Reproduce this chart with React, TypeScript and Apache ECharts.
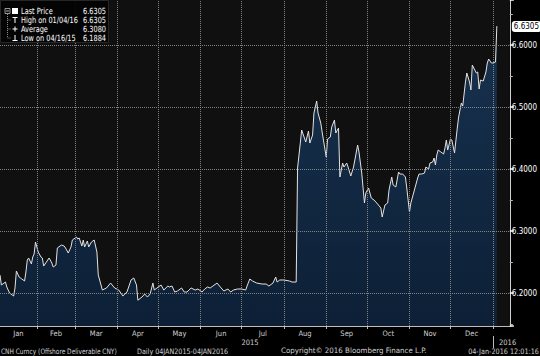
import React, { useEffect, useRef } from 'react';
import * as echarts from 'echarts';

const dates: string[] = [
  '2015-01-05','2015-01-06','2015-01-09','2015-01-10','2015-01-12','2015-01-15','2015-01-16','2015-01-17','2015-01-19','2015-01-21','2015-01-23','2015-01-24','2015-01-25','2015-01-26','2015-01-28','2015-01-29','2015-01-30','2015-01-31',
  '2015-02-02','2015-02-04','2015-02-05','2015-02-06','2015-02-08','2015-02-10','2015-02-12','2015-02-13','2015-02-15','2015-02-16','2015-02-19','2015-02-21','2015-02-22','2015-02-24','2015-02-26','2015-02-27',
  '2015-03-02','2015-03-03','2015-03-04','2015-03-06','2015-03-07','2015-03-08','2015-03-10','2015-03-11','2015-03-13','2015-03-15','2015-03-17','2015-03-18','2015-03-19','2015-03-21','2015-03-24','2015-03-27','2015-03-30',
  '2015-04-02','2015-04-05','2015-04-08','2015-04-11','2015-04-13','2015-04-15','2015-04-16','2015-04-19','2015-04-21','2015-04-23','2015-04-25','2015-04-27','2015-04-28','2015-04-30',
  '2015-05-03','2015-05-05','2015-05-08','2015-05-09','2015-05-11','2015-05-13','2015-05-15','2015-05-18','2015-05-20','2015-05-22','2015-05-25','2015-05-28','2015-05-30',
  '2015-06-02','2015-06-04','2015-06-06','2015-06-08','2015-06-10','2015-06-13','2015-06-16','2015-06-18','2015-06-21','2015-06-23','2015-06-25','2015-06-28',
  '2015-07-01','2015-07-04','2015-07-05','2015-07-07','2015-07-09','2015-07-12','2015-07-16','2015-07-19','2015-07-21','2015-07-24','2015-07-26','2015-07-27','2015-07-29',
  '2015-08-01','2015-08-05','2015-08-07','2015-08-10','2015-08-11','2015-08-13','2015-08-14','2015-08-16','2015-08-17','2015-08-19','2015-08-20','2015-08-22','2015-08-23','2015-08-25','2015-08-26','2015-08-28','2015-08-29',
  '2015-09-01','2015-09-02','2015-09-04','2015-09-05','2015-09-07','2015-09-08','2015-09-10','2015-09-11','2015-09-13','2015-09-14','2015-09-16','2015-09-17','2015-09-19','2015-09-21','2015-09-24','2015-09-25','2015-09-27','2015-09-29','2015-09-30',
  '2015-10-02','2015-10-04','2015-10-06','2015-10-08','2015-10-11','2015-10-12','2015-10-14','2015-10-16','2015-10-17','2015-10-19','2015-10-20','2015-10-22','2015-10-24','2015-10-25','2015-10-27','2015-10-29','2015-10-30',
  '2015-11-01','2015-11-02','2015-11-04','2015-11-07','2015-11-08','2015-11-10','2015-11-12','2015-11-13','2015-11-15','2015-11-16','2015-11-18','2015-11-19','2015-11-20','2015-11-21','2015-11-22','2015-11-24','2015-11-26','2015-11-27','2015-11-28','2015-11-29',
  '2015-12-01','2015-12-02','2015-12-04','2015-12-06','2015-12-07','2015-12-09','2015-12-10','2015-12-12','2015-12-13','2015-12-15','2015-12-16','2015-12-17','2015-12-20','2015-12-21','2015-12-22','2015-12-23','2015-12-25','2015-12-27','2015-12-28','2015-12-29','2015-12-31',
  '2016-01-01','2016-01-03','2016-01-04',
];

const prices: number[] = [
  6.2290, 6.2129, 6.2177, 6.2097, 6.2000, 6.1952, 6.2081, 6.2355, 6.2258, 6.2226, 6.2194, 6.2339, 6.2532, 6.2565, 6.2468, 6.2581, 6.2629, 6.2823,
  6.2661, 6.2581, 6.2565, 6.2435, 6.2500, 6.2565, 6.2484, 6.2419, 6.2452, 6.2726, 6.2774, 6.2758, 6.2726, 6.2645, 6.2742, 6.2855,
  6.2903, 6.2871, 6.2887, 6.2758, 6.2855, 6.2742, 6.2839, 6.2742, 6.2823, 6.2855, 6.2661, 6.2290, 6.2210, 6.2048, 6.2081, 6.2161, 6.2081,
  6.2048, 6.1952, 6.2016, 6.2210, 6.2242, 6.2129, 6.1884, 6.1935, 6.1984, 6.1935, 6.1984, 6.2161, 6.2048, 6.2081,
  6.2129, 6.2048, 6.2113, 6.2097, 6.2113, 6.2016, 6.2032, 6.2081, 6.2016, 6.2016, 6.2081, 6.2048, 6.2065,
  6.2016, 6.2065, 6.2097, 6.2081, 6.2113, 6.2161, 6.2081, 6.2032, 6.2065, 6.2016, 6.2048, 6.2065,
  6.2065, 6.2048, 6.2113, 6.2226, 6.2194, 6.2161, 6.2145, 6.2145, 6.2113, 6.2161, 6.2258, 6.2177, 6.2210,
  6.2210, 6.2194, 6.2177, 6.2177, 6.4016, 6.4419, 6.4629, 6.4500, 6.4435, 6.4613, 6.4419, 6.4548, 6.4903, 6.5097, 6.4903, 6.4742, 6.4597,
  6.4194, 6.4484, 6.4516, 6.4677, 6.4790, 6.4581, 6.4661, 6.3871, 6.4097, 6.4032, 6.4097, 6.4032, 6.3887, 6.4032, 6.4387, 6.4274, 6.3935, 6.3452, 6.3613,
  6.3694, 6.3532, 6.3500, 6.3452, 6.3371, 6.3226, 6.3419, 6.3452, 6.3661, 6.3871, 6.3742, 6.3710, 6.3952, 6.3919, 6.3919, 6.3871, 6.3694,
  6.3306, 6.3452, 6.3613, 6.3855, 6.3919, 6.3919, 6.3935, 6.4032, 6.4000, 6.4097, 6.4113, 6.4177, 6.4065, 6.4226, 6.4306, 6.4274, 6.4242, 6.4339, 6.4468, 6.4306,
  6.4484, 6.4468, 6.4258, 6.4661, 6.4839, 6.5065, 6.5016, 6.5403, 6.5548, 6.5403, 6.5274, 6.5677, 6.5548, 6.5565, 6.5290, 6.5435, 6.5419, 6.5565, 6.5710, 6.5774, 6.5710,
  6.5710, 6.5726, 6.6305,
];

const monthNames: string[] = ['Jan', 'Feb', 'Mar', 'Apr', 'May', 'Jun', 'Jul', 'Aug', 'Sep', 'Oct', 'Nov', 'Dec'];
const yearLabels: string[] = ['2015', '2016'];
const yGridValues: number[] = [6.2, 6.3, 6.4, 6.5, 6.6];

const legendNames: string[] = ['Last Price', 'High on 01/04/16', 'Average', 'Low on 04/16/15'];
const legendValues: number[] = [6.6305, 6.6305, 6.3080, 6.1884];
const lastPrice = 6.6305;

const footerSource = 'CNH Curncy (Offshore Deliverable CNY)';
const footerRange = 'Daily 04JAN2015-04JAN2016';
const footerMid = 'Copyright\u00A9 2016 Bloomberg Finance L.P.';
const footerRight = '04-Jan-2016 12:01:16';

const FONT = "'DejaVu Sans Condensed', 'Liberation Sans Narrow', 'Liberation Sans', sans-serif";
const GRID_COLOR = '#8e8e8e';

function toTime(s: string): number {
  const [y, m, d] = s.split('-').map(Number);
  return new Date(y, m - 1, d).getTime();
}

export default function App() {
  const ref = useRef<HTMLDivElement>(null);

  useEffect(() => {
    if (!ref.current) return;
    const chart = echarts.init(ref.current, null, { renderer: 'svg' });

    const axisMin = new Date(2015, 0, 5).getTime();
    const axisMax = new Date(2016, 0, 13, 12).getTime();
    const monthStarts: number[] = [];
    for (let m = 1; m <= 12; m++) monthStarts.push(new Date(2015, m, 1).getTime());
    const monthMids: number[] = [];
    for (let m = 0; m < 12; m++) {
      const s = m === 0 ? axisMin : new Date(2015, m, 1).getTime();
      const e = new Date(2015, m + 1, 1).getTime();
      monthMids.push((s + e) / 2);
    }

    const seriesData = dates.map((d, i) => [toTime(d), prices[i]]);

    const dotted = { color: GRID_COLOR, type: 'dotted', width: 1, opacity: 0.9 };
    const gridMarks: any[] = [
      ...monthStarts.map((t) => ({ xAxis: t, lineStyle: dotted, label: { show: false } })),
      ...yGridValues.map((v) => ({ yAxis: v, lineStyle: dotted, label: { show: false } })),
      {
        yAxis: lastPrice,
        lineStyle: { color: 'rgba(0,0,0,0)', width: 0 },
        label: {
          show: true,
          position: 'end',
          distance: 2,
          formatter: () => lastPrice.toFixed(4),
          color: '#000000',
          backgroundColor: '#ffffff',
          borderRadius: 3,
          padding: [2, 2, 1, 2],
          fontSize: 8,
          fontFamily: FONT,
        },
      },
    ];

    const graphic: any[] = [];
    graphic.push({ type: 'rect', shape: { x: 0.5, y: 0.5, width: 108, height: 42 }, style: { fill: 'rgba(4,4,4,0.95)', stroke: '#262626', lineWidth: 1 }, z: 10 });
    graphic.push({ type: 'line', shape: { x1: 7.5, y1: 14, x2: 7.5, y2: 38 }, style: { stroke: '#8a8a8a', lineWidth: 1, lineDash: [1, 1] }, z: 11 });
    [20, 29, 38].forEach((yy) => {
      graphic.push({ type: 'line', shape: { x1: 7.5, y1: yy, x2: 11, y2: yy }, style: { stroke: '#8a8a8a', lineWidth: 1, lineDash: [1, 1] }, z: 11 });
    });
    graphic.push({ type: 'rect', shape: { x: 5, y: 8.5, width: 5, height: 5 }, style: { fill: 'none', stroke: '#bbb', lineWidth: 0.8 }, z: 11 });
    graphic.push({ type: 'line', shape: { x1: 6, y1: 11, x2: 9, y2: 11 }, style: { stroke: '#ddd', lineWidth: 0.8 }, z: 11 });
    graphic.push({ type: 'rect', shape: { x: 12, y: 8, width: 6, height: 6 }, style: { fill: '#ffffff' }, z: 11 });
    graphic.push({ type: 'line', shape: { x1: 12.5, y1: 17.5, x2: 17.5, y2: 17.5 }, style: { stroke: '#fff', lineWidth: 1 }, z: 11 });
    graphic.push({ type: 'line', shape: { x1: 15, y1: 17.5, x2: 15, y2: 23 }, style: { stroke: '#fff', lineWidth: 1 }, z: 11 });
    graphic.push({ type: 'line', shape: { x1: 12.5, y1: 29, x2: 17.5, y2: 29 }, style: { stroke: '#fff', lineWidth: 1 }, z: 11 });
    graphic.push({ type: 'line', shape: { x1: 15, y1: 26.5, x2: 15, y2: 31.5 }, style: { stroke: '#fff', lineWidth: 1 }, z: 11 });
    graphic.push({ type: 'line', shape: { x1: 15, y1: 35, x2: 15, y2: 40.5 }, style: { stroke: '#fff', lineWidth: 1 }, z: 11 });
    graphic.push({ type: 'line', shape: { x1: 12.5, y1: 40.5, x2: 17.5, y2: 40.5 }, style: { stroke: '#fff', lineWidth: 1 }, z: 11 });

    const rowsY = [11, 20, 29, 38];
    legendNames.forEach((name, i) => {
      graphic.push({ type: 'text', x: 21, y: rowsY[i], scaleX: 0.86, style: { text: name, fill: '#ffffff', font: `8.5px ${FONT}`, textVerticalAlign: 'middle', textAlign: 'left' }, z: 12 });
      graphic.push({ type: 'text', x: 106, y: rowsY[i], scaleX: 0.86, style: { text: legendValues[i].toFixed(4), fill: '#ffffff', font: `8.5px ${FONT}`, textVerticalAlign: 'middle', textAlign: 'right' }, z: 12 });
    });

    graphic.push({ type: 'text', x: 250, y: 342, style: { text: yearLabels[0], fill: '#d0d0d0', font: `7.5px ${FONT}`, textAlign: 'center', textVerticalAlign: 'middle' } });
    graphic.push({ type: 'line', shape: { x1: 493.5, y1: 336, x2: 493.5, y2: 348 }, style: { stroke: '#bbb', lineWidth: 1 } });
    graphic.push({ type: 'text', x: 499, y: 342, style: { text: yearLabels[1], fill: '#d0d0d0', font: `7.5px ${FONT}`, textAlign: 'left', textVerticalAlign: 'middle' } });

    graphic.push({ type: 'text', x: 1, y: 351, scaleX: 0.87, style: { text: footerSource, fill: '#cfcfcf', font: `7.5px ${FONT}`, textAlign: 'left', textVerticalAlign: 'middle' } });
    graphic.push({ type: 'text', x: 137, y: 351, scaleX: 0.95, style: { text: footerRange, fill: '#cfcfcf', font: `7.5px ${FONT}`, textAlign: 'left', textVerticalAlign: 'middle' } });
    graphic.push({ type: 'text', x: 281, y: 351, scaleX: 1.05, style: { text: footerMid, fill: '#cfcfcf', font: `7.5px ${FONT}`, textAlign: 'left', textVerticalAlign: 'middle' } });
    graphic.push({ type: 'text', x: 539, y: 351, scaleX: 0.96, style: { text: footerRight, fill: '#cfcfcf', font: `7.5px ${FONT}`, textAlign: 'right', textVerticalAlign: 'middle' } });

    chart.setOption({
      animation: false,
      backgroundColor: '#000000',
      grid: {
        left: 0,
        right: 29,
        top: 0,
        bottom: 30,
        show: true,
        backgroundColor: '#101010',
        borderWidth: 0,
      },
      xAxis: {
        type: 'value',
        min: axisMin,
        max: axisMax,
        axisLine: { show: true, lineStyle: { color: '#bdbdbd', width: 1 } },
        axisTick: { show: true, customValues: monthStarts, length: 3, lineStyle: { color: '#bdbdbd' } },
        axisLabel: {
          show: true,
          customValues: monthMids,
          color: '#d0d0d0',
          fontSize: 7.5,
          fontFamily: FONT,
          margin: 3,
          formatter: (v: number) => monthNames[new Date(v).getMonth()],
        },
        splitLine: { show: false },
      },
      yAxis: {
        type: 'value',
        position: 'right',
        min: 6.1468,
        max: 6.6726,
        scale: true,
        axisLine: { show: true, lineStyle: { color: '#d0d0d0', width: 1 } },
        axisTick: { show: true, length: 4, lineStyle: { color: '#ffffff', width: 1.5 } },
        minorTick: { show: true, splitNumber: 2, length: 3, lineStyle: { color: '#bbbbbb' } },
        axisLabel: {
          color: '#ffffff',
          fontSize: 8,
          fontFamily: FONT,
          margin: 2,
          showMinLabel: false,
          showMaxLabel: false,
          formatter: (v: number) => v.toFixed(4),
        },
        splitLine: { show: false },
      },
      series: [
        {
          type: 'line',
          data: seriesData,
          showSymbol: false,
          symbol: 'none',
          lineStyle: { color: '#e2e2e2', width: 1 },
          areaStyle: {
            origin: 'start',
            color: new echarts.graphic.LinearGradient(0, 0, 0, 1, [
              { offset: 0, color: '#1b406a' },
              { offset: 1, color: '#0b2646' },
            ]),
          },
          markLine: {
            silent: true,
            symbol: ['none', 'none'],
            data: gridMarks,
          },
        },
      ],
      graphic,
    });

    return () => chart.dispose();
  }, []);

  return (
    <div
      ref={ref}
      style={{ position: 'absolute', left: 0, top: 0, width: 540, height: 356, background: '#000' }}
    />
  );
}
